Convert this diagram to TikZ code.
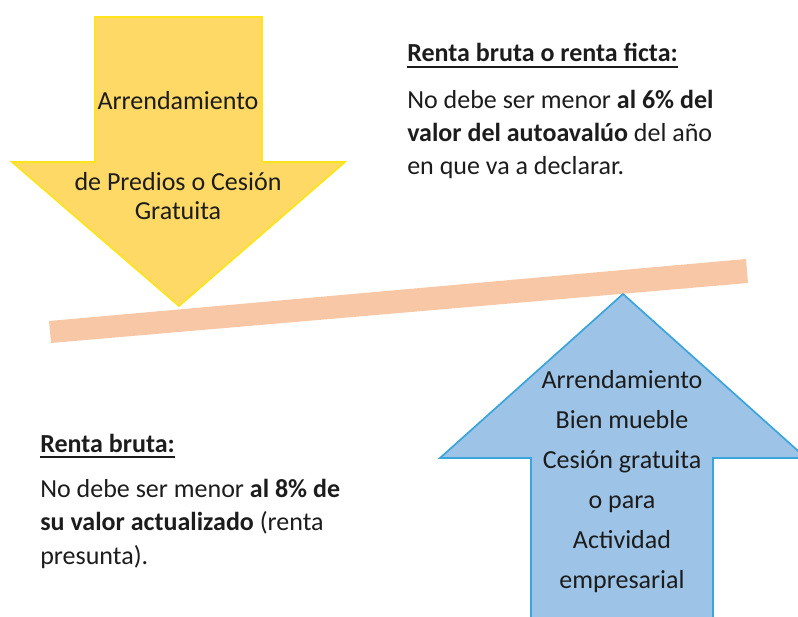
\documentclass[tikz,border=0pt]{standalone}
\usepackage{fontspec}
\setmainfont{Carlito}
\definecolor{downfill}{HTML}{FFD966}
\definecolor{downedge}{HTML}{FFE419}
\definecolor{plank}{HTML}{F8C8A6}
\definecolor{upfill}{HTML}{9DC3E6}
\definecolor{upedge}{HTML}{3AA5DC}
\definecolor{ink}{HTML}{1C1C1C}
\tikzset{
  words/.style={text=ink,inner sep=0pt,font=\fontsize{18.5}{23.6}\selectfont},
  block/.style={words,align=left},
  center block/.style={words,align=center}
}
\begin{document}
\begin{tikzpicture}[x=0.025cm,y=-0.025cm]
  \clip (0,0) rectangle (798,617);
  %% plank
  \fill[plank] (49,321) -- (746,259) -- (748,283) -- (51,343) -- cycle;
  %% arrow pressing down
  \filldraw[fill=downfill,draw=downedge,line width=1.2pt]
    (95,17) -- (262,17) -- (262,162) -- (345,162) -- (179,306) -- (12,162) -- (95,162) -- cycle;
  %% arrow pushing up
  \filldraw[fill=upfill,draw=upedge,line width=1.2pt]
    (623,294) -- (806,458) -- (713,458) -- (713,630) -- (531,630) -- (531,458) -- (440,458) -- cycle;
  %% texts on the arrows (base of a block = its last line)
  \node[words,anchor=base] (downtop) at (178,110) {Arrendamiento};
  \node[center block,anchor=base,font=\fontsize{18.5}{21.3}\selectfont] (downbot) at (178,220) {de Predios o Cesión\\Gratuita};
  \node[center block,anchor=base,font=\fontsize{18.5}{28.4}\selectfont] (uptext) at (622,588)
    {Arrendamiento\\Bien mueble\\Cesión gratuita\\o para\\Actividad\\empresarial};
  %% renta ficta
  \node[words,anchor=base west] (fictahead) at (407,62) {\textbf{Renta bruta o renta ficta:}};
  \draw[ink,line width=0.9pt] ([yshift=-3.6pt]fictahead.base west) -- ([yshift=-3.6pt]fictahead.base east);
  \node[block,anchor=base west] (fictatext) at (407,175)
    {No debe ser menor \textbf{al 6\% del}\\\textbf{valor del autoavalúo} del año\\en que va a declarar.};
  %% renta bruta
  \node[words,anchor=base west] (brutahead) at (40,452) {\textbf{Renta bruta:}};
  \draw[ink,line width=0.9pt] ([yshift=-3.6pt]brutahead.base west) -- ([yshift=-3.6pt]brutahead.base east);
  \node[block,anchor=base west] (brutatext) at (40,564)
    {No debe ser menor \textbf{al 8\% de}\\\textbf{su valor actualizado} (renta\\presunta).};
\end{tikzpicture}
\end{document}
